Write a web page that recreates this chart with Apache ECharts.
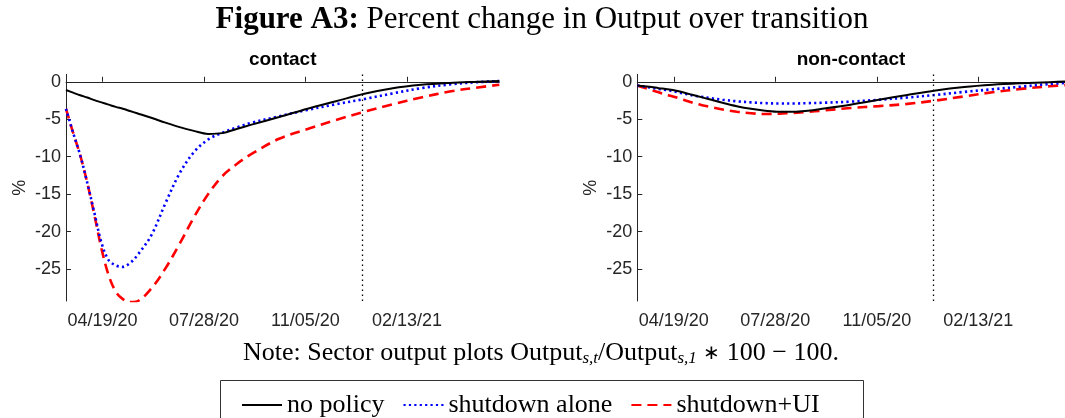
<!DOCTYPE html>
<html>
<head>
<meta charset="utf-8">
<script src="https://cdn.jsdelivr.net/npm/echarts@6/dist/echarts.min.js"></script>
<style>
  html, body { margin: 0; padding: 0; background: #fff; }
  #chart { width: 1065px; height: 418px; }
</style>
</head>
<body>
<div id="chart"></div>
<script>
// days since 03/14/20 (first period of the transition)
var days = [0, 7, 14, 21, 28, 35, 42, 49, 56, 63, 70, 84, 98, 112, 126, 140, 154, 168, 182, 210, 238, 266, 294, 322, 350, 378, 406, 427];

// contact sector
var contactNoPolicy = [-1.1, -1.45, -1.8, -2.1, -2.45, -2.75, -3.05, -3.35, -3.6, -3.9, -4.2, -4.8, -5.45, -6.05, -6.55, -6.95, -6.85, -6.3, -5.75, -4.7, -3.6, -2.6, -1.6, -0.85, -0.4, -0.15, 0.0, 0.1];
var contactShutdown = [-3.6, -6.8, -9.8, -13.5, -17.5, -21.5, -23.8, -24.5, -24.7, -24.2, -23.2, -20.5, -16.2, -12.2, -9.4, -7.7, -6.8, -6.1, -5.5, -4.6, -3.75, -3.0, -2.3, -1.55, -0.85, -0.35, -0.05, 0.1];
var contactShutdownUI = [-3.6, -6.8, -9.8, -13.5, -17.8, -22.3, -25.8, -28.0, -29.0, -29.4, -29.3, -27.6, -24.9, -21.6, -18.1, -15.0, -12.6, -11.0, -9.7, -7.6, -6.3, -5.1, -4.0, -3.0, -2.1, -1.3, -0.75, -0.4];

// non-contact sector
var nonContactNoPolicy = [-0.5, -0.6, -0.7, -0.85, -0.95, -1.1, -1.3, -1.55, -1.8, -2.05, -2.3, -2.8, -3.25, -3.6, -3.85, -4.0, -4.0, -3.85, -3.6, -3.05, -2.4, -1.75, -1.15, -0.7, -0.4, -0.2, -0.05, 0.05];
var nonContactShutdown = [-0.5, -0.65, -0.8, -0.95, -1.1, -1.25, -1.45, -1.65, -1.85, -2.0, -2.15, -2.4, -2.6, -2.75, -2.85, -2.9, -2.9, -2.85, -2.8, -2.65, -2.4, -2.1, -1.75, -1.35, -1.0, -0.65, -0.3, -0.1];
var nonContactShutdownUI = [-0.5, -0.8, -1.1, -1.4, -1.7, -1.95, -2.25, -2.55, -2.85, -3.1, -3.3, -3.7, -4.0, -4.2, -4.3, -4.25, -4.15, -4.0, -3.85, -3.5, -3.25, -2.95, -2.5, -1.95, -1.4, -0.95, -0.6, -0.4];

// x tick labels
var tickDays = [36, 136, 236, 336];
var tickLabels = ['04/19/20', '07/28/20', '11/05/20', '02/13/21'];
var yTicks = [0, -5, -10, -15, -20, -25];
var policyEndDay = 292; // 01/01/21

var seriesNames = ['no policy', 'shutdown alone', 'shutdown+UI'];
var panelTitles = ['contact', 'non-contact'];

var axisColor = '#262626';
var sans = 'Liberation Sans';
var serif = 'Liberation Serif';

function pairs(vals) {
    var out = [];
    for (var i = 0; i < days.length; i++) {
        out.push([days[i], vals[i]]);
    }
    return out;
}

var lineStyles = [
    { color: '#000000', width: 2, type: 'solid' },
    { color: '#0000ff', width: 2.6, type: [2.2, 3.2] },
    { color: '#ff0000', width: 2.6, type: [10, 6] }
];

function makeX(idx, max) {
    return {
        type: 'value', gridIndex: idx, min: 0, max: max,
        axisLine: { show: true, lineStyle: { color: axisColor, width: 1 } },
        axisTick: { show: true, inside: true, length: 5, customValues: tickDays, lineStyle: { color: axisColor } },
        axisLabel: {
            customValues: tickDays, color: axisColor, fontFamily: sans, fontSize: 18, margin: 11,
            formatter: function (v) {
                var k = tickDays.indexOf(v);
                return k >= 0 ? tickLabels[k] : '';
            }
        },
        splitLine: { show: false }
    };
}

function makeY(idx) {
    return {
        type: 'value', gridIndex: idx, min: -29.25, max: 1,
        name: '%', nameLocation: 'middle', nameRotate: 90, nameGap: 37,
        nameTextStyle: { color: axisColor, fontFamily: sans, fontSize: 18 },
        axisLine: { show: true, lineStyle: { color: axisColor, width: 1 } },
        axisTick: { show: true, inside: true, length: 5, customValues: yTicks, lineStyle: { color: axisColor } },
        axisLabel: { customValues: yTicks, color: axisColor, fontFamily: sans, fontSize: 18, margin: 5 },
        splitLine: { show: false }
    };
}

function makeSeries(idx, valsList) {
    var out = [];
    for (var s = 0; s < valsList.length; s++) {
        var ser = {
            name: seriesNames[s], type: 'line', xAxisIndex: idx, yAxisIndex: idx,
            data: pairs(valsList[s]), smooth: 0.35, symbol: 'none', clip: true,
            lineStyle: lineStyles[s], itemStyle: { color: lineStyles[s].color },
            z: 3 - s
        };
        if (s === 0) {
            ser.markLine = {
                silent: true, symbol: 'none', label: { show: false },
                lineStyle: { color: '#000', width: 1.3, type: [1.5, 3.5] },
                data: [{ xAxis: policyEndDay }]
            };
        }
        out.push(ser);
    }
    return out;
}

var chart = echarts.init(document.getElementById('chart'));

var option = {
    animation: false,
    backgroundColor: '#fff',
    title: [
        {
            text: '{b|Figure A3:} Percent change in Output over transition',
            left: 542, top: 4, textAlign: 'center', padding: 0,
            textStyle: {
                fontFamily: serif, fontSize: 31, fontWeight: 'normal', color: '#000',
                rich: { b: { fontFamily: serif, fontSize: 31, fontWeight: 'bold', color: '#000' } }
            }
        },
        {
            text: panelTitles[0], left: 282.7, top: 50, textAlign: 'center', padding: 0,
            textStyle: { fontFamily: sans, fontSize: 19, fontWeight: 'bold', color: '#000' }
        },
        {
            text: panelTitles[1], left: 851, top: 50, textAlign: 'center', padding: 0,
            textStyle: { fontFamily: sans, fontSize: 19, fontWeight: 'bold', color: '#000' }
        },
        {
            text: 'Note: Sector output plots Output{sub|s,t}/Output{sub|s,1} {op|\u2217} 100 \u2212 100.',
            left: 541, top: 340, textAlign: 'center', padding: 0,
            textStyle: {
                fontFamily: serif, fontSize: 26, fontWeight: 'normal', color: '#000',
                rich: {
                    sub: { fontFamily: serif, fontStyle: 'italic', fontSize: 17, color: '#000', padding: [10, 0, 0, 0] },
                    op: { fontFamily: serif, fontSize: 20, color: '#000' }
                }
            }
        }
    ],
    legend: {
        data: seriesNames,
        left: 236, top: 387, itemWidth: 40, itemHeight: 14, itemGap: 18,
        itemStyle: { opacity: 0 },
        textStyle: { fontFamily: serif, fontSize: 26, color: '#000' }
    },
    graphic: [{
        type: 'rect', silent: true,
        shape: { x: 220.5, y: 380.5, width: 643, height: 60 },
        style: { fill: 'none', stroke: '#333', lineWidth: 1 }
    }],
    grid: [
        { left: 66, top: 74.3, width: 433.3, height: 226.7 },
        { left: 637.3, top: 74.3, width: 427.7, height: 226.7 }
    ],
    xAxis: [makeX(0, 427), makeX(1, 421.4)],
    yAxis: [makeY(0), makeY(1)],
    series: makeSeries(0, [contactNoPolicy, contactShutdown, contactShutdownUI])
        .concat(makeSeries(1, [nonContactNoPolicy, nonContactShutdown, nonContactShutdownUI]))
};

chart.setOption(option);
</script>
</body>
</html>
